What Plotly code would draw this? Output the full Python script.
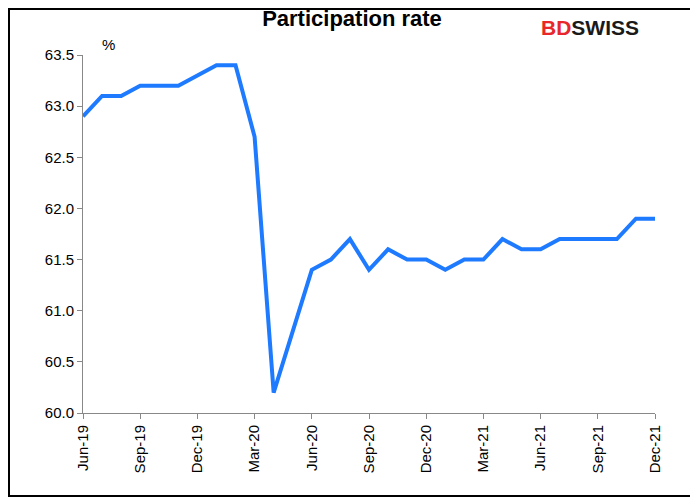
import plotly.graph_objects as go

months = ['Jun-19', 'Jul-19', 'Aug-19', 'Sep-19', 'Oct-19', 'Nov-19', 'Dec-19',
          'Jan-20', 'Feb-20', 'Mar-20', 'Apr-20', 'May-20', 'Jun-20', 'Jul-20',
          'Aug-20', 'Sep-20', 'Oct-20', 'Nov-20', 'Dec-20', 'Jan-21', 'Feb-21',
          'Mar-21', 'Apr-21', 'May-21', 'Jun-21', 'Jul-21', 'Aug-21', 'Sep-21',
          'Oct-21', 'Nov-21', 'Dec-21']
rate = [62.9, 63.1, 63.1, 63.2, 63.2, 63.2, 63.3, 63.4, 63.4, 62.7, 60.2, 60.8,
        61.4, 61.5, 61.7, 61.4, 61.6, 61.5, 61.5, 61.4, 61.5, 61.5, 61.7, 61.6,
        61.6, 61.7, 61.7, 61.7, 61.7, 61.9, 61.9]
tick_labels = months[::3]

fig = go.Figure(go.Scatter(x=list(range(len(months))), y=rate, mode='lines',
                           line=dict(color='#1E7BFF', width=4)))

fig.update_layout(
    width=688, height=489,
    paper_bgcolor='white', plot_bgcolor='white',
    margin=dict(l=75, r=41, t=47, b=84),
    showlegend=False,
    font=dict(family='Arial, Liberation Sans', size=15, color='black'),
    title=dict(text='<b>Participation rate</b>', x=0.5, xanchor='center',
               y=0.995, yanchor='top', font=dict(size=22)),
    xaxis=dict(range=[0, len(months) - 1], tickmode='array',
               tickvals=list(range(0, len(months), 3)), ticktext=tick_labels,
               tickangle=-90, showgrid=False, showline=True, linecolor='#888',
               ticks='outside', ticklen=5, tickcolor='#888'),
    yaxis=dict(range=[60.0, 63.5], dtick=0.5, tickformat='.1f', showgrid=False,
               showline=True, linecolor='#888', ticks='outside', ticklen=5,
               tickcolor='#888'),
    shapes=[dict(type='rect', xref='paper', yref='paper', x0=-74 / 572, x1=1 + 40 / 572,
                 y0=-83 / 358, y1=1 + 46 / 358, line=dict(color='black', width=2))],
    annotations=[
        dict(text='%', xref='paper', yref='paper', x=0.045, y=1.0,
             showarrow=False, xanchor='center', yanchor='bottom', font=dict(size=15)),
        dict(text='<b><span style="color:#E8262B">BD</span>SWISS</b>',
             xref='paper', yref='paper', x=0.975, y=1.115, showarrow=False,
             xanchor='right', yanchor='top', font=dict(size=21, color='#1a1a1a')),
    ],
)

fig.write_html('out.html')
